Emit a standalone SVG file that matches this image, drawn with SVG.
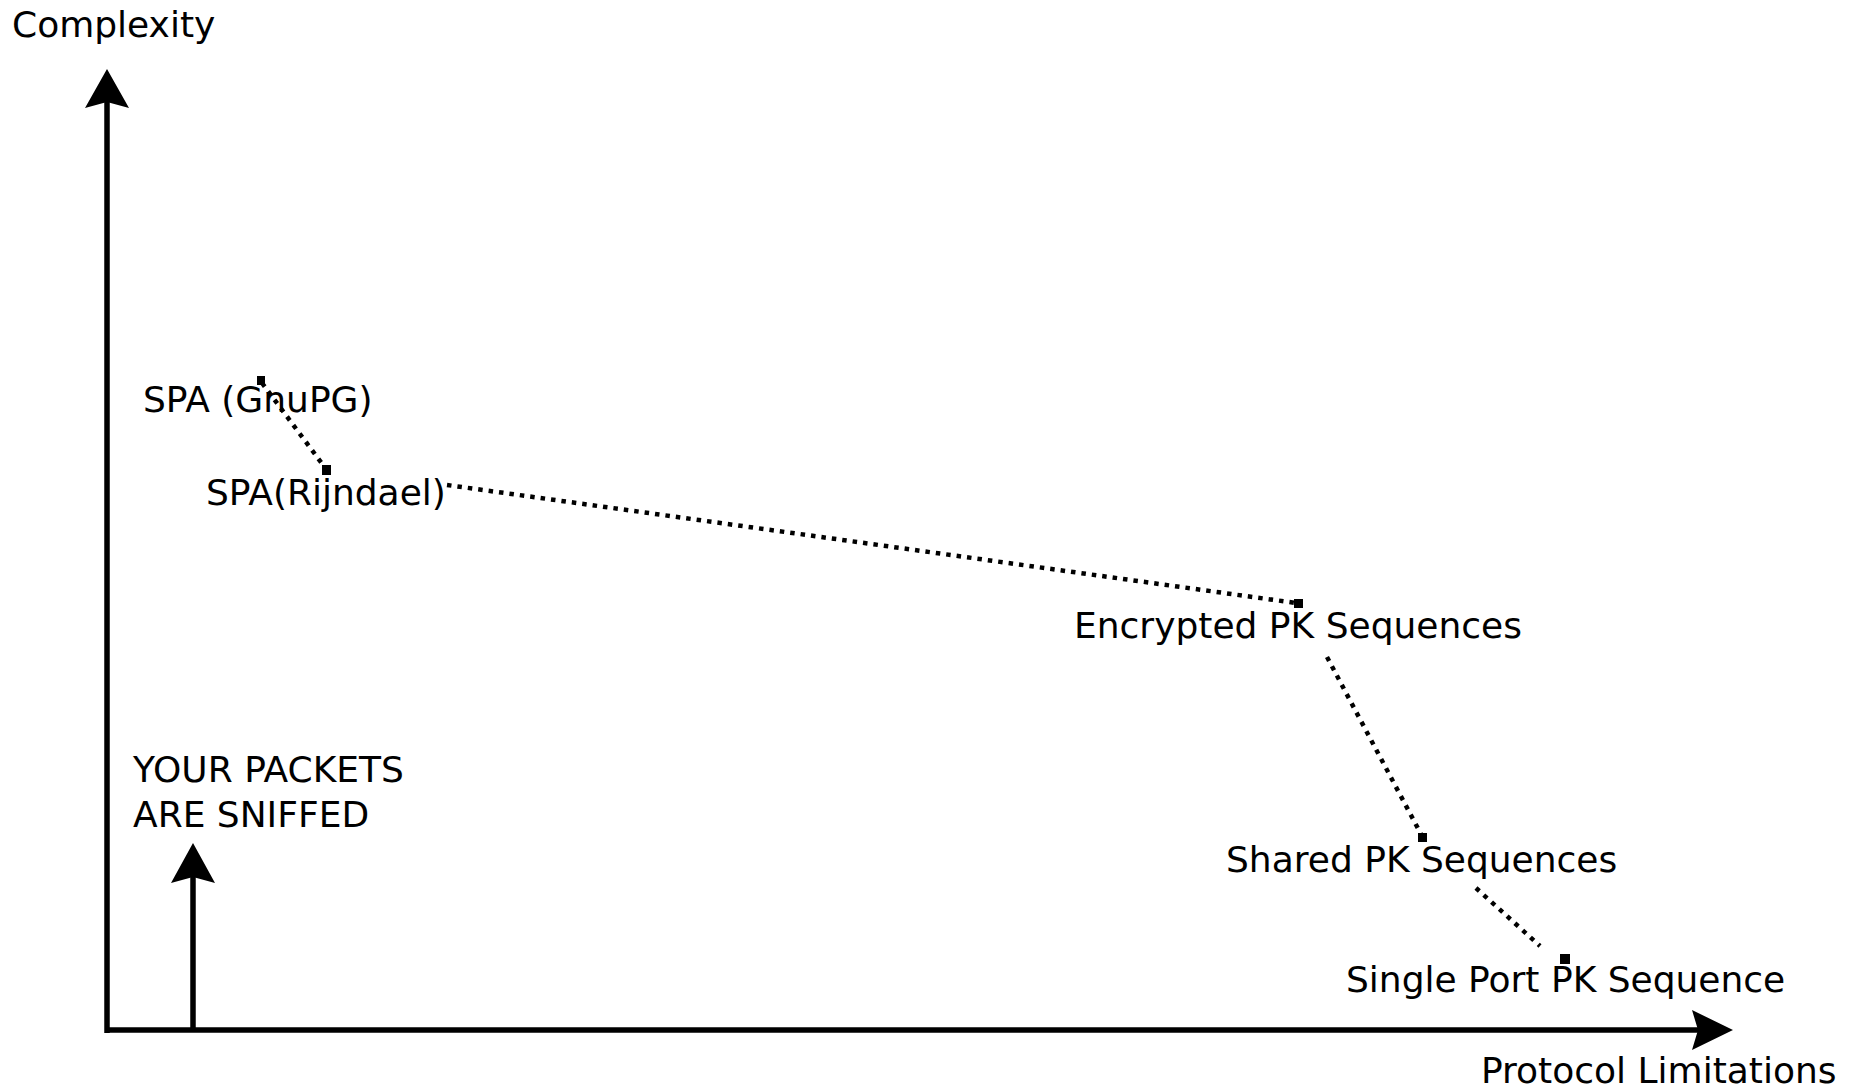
<svg xmlns="http://www.w3.org/2000/svg" width="1854" height="1089" viewBox="0 0 1854 1089">
  <style>
    text { font-family: "DejaVu Sans", "Liberation Sans", sans-serif; font-size: 36px; fill: #000; }
    .axis { stroke: #000; stroke-width: 5.5; fill: none; }
    .dot { stroke: #000; stroke-width: 4.5; stroke-dasharray: 4.5 6; fill: none; }
    .head { fill: #000; stroke: none; }
    .mark { fill: #000; }
  </style>
  <rect width="1854" height="1089" fill="#fff"/>
  <g id="axes">
    <line class="axis" x1="107" y1="100" x2="107" y2="1033"/>
    <polygon class="head" points="107,69 129,108 107,102 85,108"/>
    <line class="axis" x1="105" y1="1030" x2="1700" y2="1030"/>
    <polygon class="head" points="1733,1030 1692,1050 1698,1030 1692,1010"/>
    <text x="12" y="37">Complexity</text>
    <text x="1481" y="1083">Protocol Limitations</text>
  </g>
  <g id="connectors">
    <line class="dot" x1="262" y1="383" x2="326" y2="469"/>
    <line class="dot" x1="447" y1="485" x2="1296" y2="603"/>
    <line class="dot" x1="1327" y1="657" x2="1422" y2="836"/>
    <line class="dot" x1="1476" y1="888" x2="1540" y2="946"/>
  </g>
  <g id="node-gnupg">
    <rect class="mark" x="257" y="376" width="8" height="9"/>
    <text x="143" y="412">SPA (GnuPG)</text>
  </g>
  <g id="node-rijndael">
    <rect class="mark" x="322" y="465" width="9" height="10"/>
    <text x="206" y="505">SPA(Rijndael)</text>
  </g>
  <g id="node-encrypted">
    <rect class="mark" x="1294" y="599" width="9" height="9"/>
    <text x="1074" y="638">Encrypted PK Sequences</text>
  </g>
  <g id="node-shared">
    <rect class="mark" x="1418" y="833" width="9" height="9"/>
    <text x="1226" y="872">Shared PK Sequences</text>
  </g>
  <g id="node-single">
    <rect class="mark" x="1560" y="954" width="10" height="10"/>
    <text x="1346" y="992">Single Port PK Sequence</text>
  </g>
  <g id="node-sniffed">
    <line class="axis" x1="193" y1="875" x2="193" y2="1030"/>
    <polygon class="head" points="193,843 215,883 193,877 171,883"/>
    <text x="133" y="782">YOUR PACKETS</text>
    <text x="133" y="827">ARE SNIFFED</text>
  </g>
</svg>
